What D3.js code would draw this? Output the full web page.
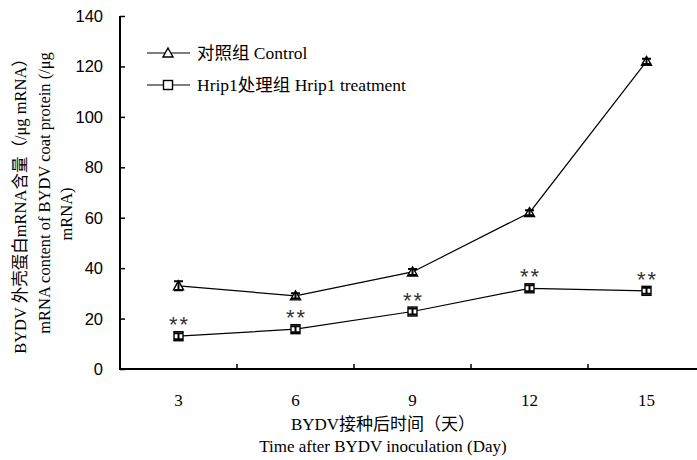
<!DOCTYPE html>
<html lang="zh">
<head>
  <meta charset="UTF-8">
  <title>BYDV coat protein mRNA</title>
  <script src="https://d3js.org/d3.v7.min.js"></script>
  <style>
    body { margin: 0; padding: 0; background: #fff; }
    svg { display: block; }
    .serif { font-family: "Liberation Serif", "Noto Sans CJK SC", serif; }
    .sans { font-family: "Liberation Sans", Arial, sans-serif; }
    .line { fill: none; stroke: #000; stroke-width: 1.2px; }
  </style>
</head>
<body>
  <svg id="chart"></svg>

  <script>
    const days = ['3', '6', '9', '12', '15'];
    const controlValues = [33, 29, 38.5, 62, 122];
    const controlErrors = [1.8, 1, 1.2, 1, 1];
    const hripValues = [13, 15.8, 22.8, 32, 31];
    const hripErrors = [1.2, 1.2, 1.2, 1.2, 1.2];
    const stars = ['**', '**', '**', '**', '**'];
    const yTicks = [0, 20, 40, 60, 80, 100, 120, 140];

    const width = 697, height = 460;
    const plotLeft = 120, plotRight = 705, plotTop = 16, plotBottom = 369;

    const svg = d3.select('#chart').attr('width', width).attr('height', height);

    const x = d3.scaleBand().domain(days).range([plotLeft, plotRight]);
    const y = d3.scaleLinear().domain([0, 140]).range([plotBottom, plotTop]);
    const cx = d => x(d) + x.bandwidth() / 2;

    // y axis, ticks pointing inward
    const yAxis = svg.append('g')
      .attr('transform', `translate(${plotLeft},0)`)
      .call(d3.axisRight(y).tickValues(yTicks).tickSize(5).tickFormat(''));
    yAxis.select('.domain').attr('stroke-width', 2).attr('d', `M0,${plotTop}V${plotBottom}`);
    yAxis.selectAll('.tick line').attr('stroke-width', 1.5);

    svg.append('g').selectAll('text')
      .data(yTicks)
      .enter().append('text')
      .attr('class', 'sans')
      .attr('x', 103)
      .attr('y', d => y(d))
      .attr('dy', '0.36em')
      .attr('text-anchor', 'end')
      .attr('font-size', 16.5)
      .text(d => d);

    // x axis: ticks at category boundaries, pointing up
    svg.append('line')
      .attr('x1', plotLeft - 1).attr('x2', plotRight)
      .attr('y1', plotBottom).attr('y2', plotBottom)
      .attr('stroke', '#000').attr('stroke-width', 2);

    svg.append('g').selectAll('line')
      .data(days.slice(1))
      .enter().append('line')
      .attr('x1', d => x(d)).attr('x2', d => x(d))
      .attr('y1', plotBottom).attr('y2', plotBottom - 5)
      .attr('stroke', '#000').attr('stroke-width', 1.5);

    svg.append('g').selectAll('text')
      .data(days)
      .enter().append('text')
      .attr('class', 'serif')
      .attr('x', d => cx(d))
      .attr('y', 406)
      .attr('text-anchor', 'middle')
      .attr('font-size', 17)
      .text(d => d);

    // axis titles
    svg.append('text').attr('class', 'serif')
      .attr('x', 383).attr('y', 430)
      .attr('text-anchor', 'middle').attr('font-size', 17)
      .text('BYDV接种后时间（天）');
    svg.append('text').attr('class', 'serif')
      .attr('x', 383).attr('y', 452)
      .attr('text-anchor', 'middle').attr('font-size', 17)
      .text('Time after BYDV inoculation (Day)');

    const yTitle = ['BYDV 外壳蛋白mRNA含量（/μg mRNA）', 'mRNA content of BYDV coat protein (/μg', 'mRNA)'];
    const yTitleX = [26, 50, 72];
    const yTitleY = [202, 193, 214];
    svg.append('g').selectAll('text')
      .data(yTitle)
      .enter().append('text')
      .attr('class', 'serif')
      .attr('text-anchor', 'middle')
      .attr('font-size', 16.5)
      .attr('transform', (d, i) => `translate(${yTitleX[i]},${yTitleY[i]}) rotate(-90)`)
      .text(d => d);

    // series
    const series = [
      { values: controlValues, errors: controlErrors, shape: 'triangle' },
      { values: hripValues, errors: hripErrors, shape: 'square' }
    ];

    const line = d3.line().x((d, i) => cx(days[i])).y(d => y(d));

    function drawMarker(g, shape, px, py) {
      if (shape === 'square') {
        g.append('rect')
          .attr('x', px - 4.5).attr('y', py - 4.5)
          .attr('width', 9).attr('height', 9)
          .attr('fill', '#fff').attr('stroke', '#000').attr('stroke-width', 1.4);
      } else {
        g.append('path')
          .attr('d', `M${px},${py - 5}L${px + 5},${py + 4}L${px - 5},${py + 4}Z`)
          .attr('fill', '#fff').attr('stroke', '#000').attr('stroke-width', 1.4);
      }
    }

    series.forEach(s => {
      svg.append('path').datum(s.values).attr('class', 'line').attr('d', line);
      const g = svg.append('g');
      s.values.forEach((v, i) => {
        const px = cx(days[i]);
        drawMarker(g, s.shape, px, y(v));
        const hi = y(v + s.errors[i]), lo = y(v - s.errors[i]);
        g.append('path')
          .attr('d', `M${px},${hi}V${lo}M${px - 4.5},${hi}H${px + 4.5}M${px - 4.5},${lo}H${px + 4.5}`)
          .attr('stroke', '#000').attr('stroke-width', 2).attr('fill', 'none');
      });
    });

    // significance marks
    svg.append('g').selectAll('text')
      .data(stars)
      .enter().append('text')
      .attr('class', 'sans')
      .attr('x', (d, i) => cx(days[i]) + 1)
      .attr('y', (d, i) => y(hripValues[i]) - 4)
      .attr('text-anchor', 'middle')
      .attr('font-size', 22)
      .attr('letter-spacing', 2)
      .attr('fill', '#333')
      .text(d => d);

    // legend
    const legend = [
      { label: '对照组 Control', shape: 'triangle' },
      { label: 'Hrip1处理组 Hrip1 treatment', shape: 'square' }
    ];
    const lg = svg.append('g');
    legend.forEach((d, i) => {
      const ly = 53 + i * 32;
      lg.append('line').attr('x1', 147).attr('x2', 190).attr('y1', ly).attr('y2', ly)
        .attr('stroke', '#000').attr('stroke-width', 1.2);
      drawMarker(lg, d.shape, 168, ly);
      lg.append('text').attr('class', 'serif')
        .attr('x', 197).attr('y', ly).attr('dy', '0.35em')
        .attr('font-size', 17.5)
        .text(d.label);
    });
  </script>
</body>
</html>
